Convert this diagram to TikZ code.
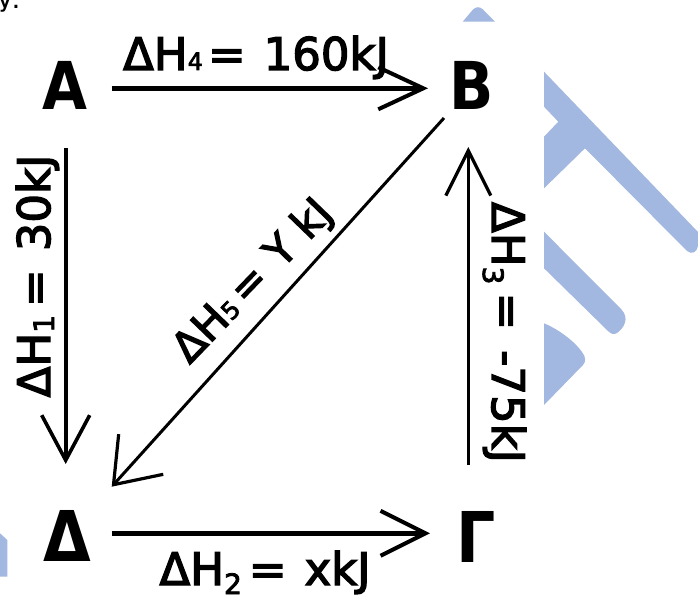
\documentclass[tikz,border=0pt]{standalone}
\usepackage{fontspec}
\setmainfont{DejaVu Sans}[FakeStretch=0.88]
\newfontfamily\lblfont{DejaVu Sans}[FakeBold=3]
\newfontfamily\monof{DejaVu Sans Mono}
\usetikzlibrary{arrows.meta}
\definecolor{wmblue}{RGB}{162,184,224}
\newcommand{\lowsub}[3]{\raisebox{-#2pt}{\fontsize{#3}{#3}\selectfont #1}}
\tikzset{
  letter/.style={font=\bfseries\fontsize{66}{70}\selectfont, inner sep=0pt, anchor=base},
  lbl/.style={font=\lblfont\fontsize{45}{50}\selectfont, inner sep=0pt, anchor=base},
  wm/.style={fill=wmblue, draw=none},
  conn/.style={draw=black, line cap=butt},
}
\begin{document}
\begin{tikzpicture}[x=1pt,y=-1pt]
\useasboundingbox (0,0) rectangle (698,596);
\clip (0,0) rectangle (698,596);
\fill[white] (0,0) rectangle (698,596);
% watermark pieces
\path[wm] (462.7,21.7) -- (473,9.5) .. controls (476,6.5) and (480,6.5) .. (483,9.5) -- (495,21.7) -- cycle;
\path[wm] (544,71.7) -- (698,232) -- (698,246) .. controls (697,252) and (692,255) .. (687,251)
  -- (585,148.3) -- (544,188.3) -- (544,136.7) -- (558.3,121.7) -- (544,106.7) -- cycle;
\path[wm] (544,231.7) -- (621,309) .. controls (630,318) and (624,328) .. (617,333)
  .. controls (614,335) and (611,334) .. (608,331) -- (544,268.3) -- cycle;
\path[wm] (544,323.3) .. controls (560,330) and (575,342) .. (582,352)
  .. controls (586,357) and (586,362) .. (583,365) -- (544,405) -- cycle;
\path[wm] (0,533.3) -- (7.3,540) -- (7.3,576.7) -- (0,576.7) -- cycle;
% stray text
\node[anchor=base west, inner sep=0pt, font=\monof\bfseries\fontsize{18}{18}\selectfont] (ytxt) at (-0.5,8.5) {y.};
% letters
\node[letter] (A) at (65,110) {A};
\node[letter] (B) at (471.5,110) {B};
\node[letter, font=\bfseries\fontsize{70}{74}\selectfont] (D) at (67,561) {Δ};
\node[letter, font=\bfseries\fontsize{70}{74}\selectfont] (G) at (476,562) {Γ};
% connector ends
\coordinate (AB1) at (111.7,88.3);  \coordinate (AB2) at (428,88.3);
\coordinate (DG1) at (111.7,533.3); \coordinate (DG2) at (430,533.3);
\coordinate (AD1) at (65.7,148);    \coordinate (AD2) at (65.7,464);
\coordinate (GB1) at (468.3,465);   \coordinate (GB2) at (468.3,147);
\coordinate (BD1) at (444,118);     \coordinate (BD2) at (111.7,486.7);
% connectors
\draw[conn, line width=5pt, -{Straight Barb[length=45pt, width=42pt, line width=4pt]}] (AB1) -- (AB2);
\draw[conn, line width=5pt, -{Straight Barb[length=45pt, width=45pt, line width=4pt]}] (DG1) -- (DG2);
\draw[conn, line width=3.6pt, -{Straight Barb[length=45pt, width=48pt, line width=3.6pt]}] (AD1) -- (AD2);
\draw[conn, line width=3pt, -{Straight Barb[length=45pt, width=45pt, line width=3.2pt]}] (GB1) -- (GB2);
\draw[conn, line width=3pt, -{Straight Barb[length=41pt, width=60pt, line width=3.2pt]}] (BD1) -- (BD2);
% labels
\node[lbl] (L4) at (256,70) {ΔH\lowsub{4}{0}{24}\hspace{5pt}=\hspace{18pt}160kJ};
\node[lbl] (L2) at (265,585) {ΔH\lowsub{2}{9}{28}\hspace{7pt}=\hspace{18pt}xkJ};
\node[lbl, rotate=90] (L1) at (50,276) {ΔH\lowsub{1}{4}{28}\hspace{8pt}=\hspace{18pt}30kJ};
\node[lbl, rotate=-90] (L3) at (492,332.5) {ΔH\lowsub{3}{9}{28}\hspace{8pt}=\hspace{20pt}-75kJ};
\node[lbl, rotate=46, font=\lblfont\fontsize{42}{46}\selectfont] (L5) at (262,290) {ΔH\lowsub{5}{0}{24}\hspace{6pt}=\hspace{16pt}Y kJ};
\end{tikzpicture}
\end{document}
